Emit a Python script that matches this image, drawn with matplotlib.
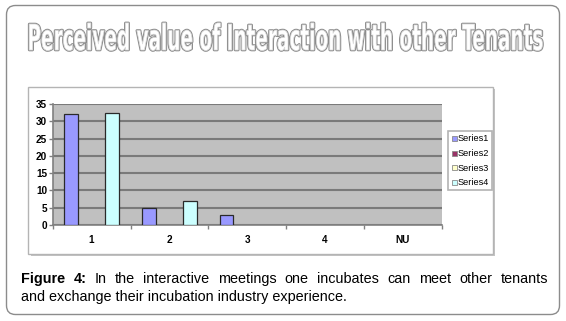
import matplotlib
matplotlib.use("Agg")
import matplotlib.pyplot as plt
import numpy as np
from matplotlib.patches import Rectangle, FancyBboxPatch
from matplotlib.lines import Line2D
from matplotlib import patheffects
from matplotlib.transforms import Affine2D

# ---------------- data ----------------
categories = ["1", "2", "3", "4", "NU"]
series_names = ["Series1", "Series2", "Series3", "Series4"]
series1 = [32, 5, 3, 0, 0]
series2 = [0, 0, 0, 0, 0]
series3 = [0, 0, 0, 0, 0]
series4 = [32.5, 7, 0, 0, 0]
yticks = [0, 5, 10, 15, 20, 25, 30, 35]
title = "Perceived value of Interaction with other Tenants"
caption_bold = ["Figure", "4:"]
caption_line1 = "In the interactive meetings one incubates can meet other tenants"
caption_line2 = "and exchange their incubation industry experience."

# ---------------- style ----------------
colors = ["#9999ff", "#993366", "#ffffcc", "#ccffff"]
W, H = 566, 321
fig = plt.figure(figsize=(W / 100, H / 100), dpi=100)
T = fig.dpi_scale_trans


def px(x, y):
    return (x / 100.0, (H - y) / 100.0)


# outer rounded frame
outer = FancyBboxPatch(px(6.5, 314.5), 553 / 100, 309 / 100,
                       boxstyle="round,pad=0,rounding_size=0.09",
                       transform=T, fc="white", ec="#8c8c8c", lw=1.0, zorder=-3)
fig.add_artist(outer)

# inner chart box with shadow
shadow = Rectangle(px(30.5, 256), 464.5 / 100, 167 / 100, transform=T,
                   fc="#c4c4c4", ec="none", zorder=-2)
fig.add_artist(shadow)
inner = Rectangle(px(28.3, 254), 464.7 / 100, 167 / 100, transform=T,
                  fc="white", ec="#b4b4b4", lw=1.0, zorder=-1)
fig.add_artist(inner)

# axes
ax = fig.add_axes([52.7 / W, (H - 225) / H, (441.7 - 52.7) / W, (225 - 104) / H])
ax.set_facecolor("#c0c0c0")
x = np.arange(len(categories))
bw = 0.177
all_series = [series1, series2, series3, series4]
for i, vals in enumerate(all_series):
    vals = np.asarray(vals, dtype=float)
    lws = np.where(vals > 0, 0.9, 0.0)
    ax.bar(x + (i - 1.5) * bw, vals, width=bw, color=colors[i],
           edgecolor="#2a2a2a", linewidth=lws, zorder=3)

ax.set_xlim(-0.5, len(categories) - 0.5)
ax.set_ylim(0, 35)
ax.set_yticks(yticks)
ax.set_yticklabels([str(v) for v in yticks], fontsize=7.2, fontweight="bold",
                   family="Liberation Sans")
ax.yaxis.grid(True, color="#7a7a7a", lw=1.5, zorder=1)
ax.set_axisbelow(True)

ax.set_xticks(np.arange(-0.5, len(categories), 1.0))
ax.set_xticklabels([])
ax.set_xticks(x, minor=True)
ax.set_xticklabels(categories, minor=True, fontsize=7.2, fontweight="bold",
                   family="Liberation Sans")
ax.tick_params(axis="x", which="major", length=3, color="#808080", width=1)
ax.tick_params(axis="x", which="minor", length=0, pad=7.5)
ax.tick_params(axis="y", length=3, color="#808080", width=1, pad=1)

for s in ["top", "right"]:
    ax.spines[s].set_visible(False)
for s in ["left", "bottom"]:
    ax.spines[s].set_color("#808080")
    ax.spines[s].set_linewidth(1.2)

# legend
handles = [Line2D([], [], ls="none", marker="s", markersize=3.6,
                  markerfacecolor=c, markeredgecolor="#8a8a8a", markeredgewidth=0.6)
           for c in colors]
leg = fig.legend(handles, series_names, loc="upper left",
                 bbox_to_anchor=(447.8 / W, 1 - 131 / H), bbox_transform=fig.transFigure,
                 prop={"family": "Liberation Sans", "size": 6.6},
                 frameon=True, fancybox=False, edgecolor="#a0a0a0",
                 borderpad=0.35, labelspacing=0.62, handlelength=0.55,
                 handletextpad=0.2, borderaxespad=0)
leg.get_frame().set_linewidth(1.2)


# ---------------- title with outlined (hollow) text ----------------
class OutlineSqueeze(patheffects.AbstractPathEffect):
    def __init__(self, sx=1.0, sy=1.0, stroke="#8c8c8c", lw=1.9, inner="#dcdcdc"):
        super().__init__((0, 0))
        self.sx, self.sy = sx, sy
        self.stroke, self.lw, self.inner = stroke, lw, inner

    def draw_path(self, renderer, gc, tpath, affine, rgbFace=None):
        aff = Affine2D().scale(self.sx, self.sy) + affine
        g = renderer.new_gc()
        g.copy_properties(gc)
        g.set_linewidth(self.lw)
        g.set_foreground(self.stroke)
        g.set_joinstyle("round")
        renderer.draw_path(g, tpath, aff, (1, 1, 1, 1))
        g2 = renderer.new_gc()
        g2.copy_properties(gc)
        g2.set_linewidth(0.5)
        g2.set_foreground(self.inner)
        renderer.draw_path(g2, tpath, aff, (1, 1, 1, 1))
        g.restore()
        g2.restore()


title_left, title_right, title_cap_top, title_base = 27.5, 543.5, 24.5, 50.0
tfs = 20.0
ttl = fig.text(title_left / 100, (H - title_base) / 100, title, transform=T,
               ha="left", va="baseline", fontsize=tfs,
               family="Liberation Sans Narrow", fontweight="bold", color="white")
fig.canvas.draw()
r = fig.canvas.get_renderer()
w0 = ttl.get_window_extent(r).width
tfs = tfs * (title_right - title_left) / w0
ttl.set_fontsize(tfs)
fig.canvas.draw()
w1 = ttl.get_window_extent(r).width
sx = (title_right - title_left) / w1
cap_px = 0.716 * tfs * 100 / 72
sy = (title_base - title_cap_top) / cap_px
ttl.set_path_effects([OutlineSqueeze(sx, sy)])

# ---------------- caption (justified first line) ----------------
cfs = 10.4
cap_left, cap_right = 21.0, 548.0
base1, base2 = 283.0, 301.5
words = [(w, "bold") for w in caption_bold] + [(w, "normal") for w in caption_line1.split()]
arts = []
for w, wt in words:
    t = fig.text(0, (H - base1) / 100, w, transform=T, ha="left", va="baseline",
                 fontsize=cfs, family="Liberation Sans", fontweight=wt, color="black")
    arts.append(t)
fig.canvas.draw()
widths = [a.get_window_extent(r).width for a in arts]
gap = (cap_right - cap_left - sum(widths)) / (len(arts) - 1)
xpos = cap_left
for a, wd in zip(arts, widths):
    a.set_x(xpos / 100)
    xpos += wd + gap
fig.text(cap_left / 100, (H - base2) / 100, caption_line2, transform=T,
         ha="left", va="baseline", fontsize=cfs, family="Liberation Sans",
         color="black")

fig.savefig("out.png", dpi=100)
